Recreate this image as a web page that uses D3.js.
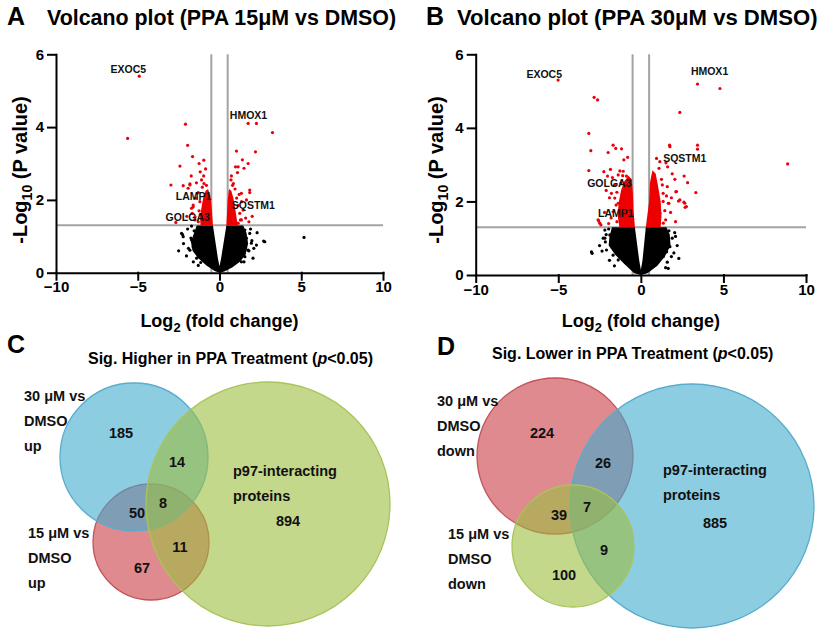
<!DOCTYPE html>
<html>
<head>
<meta charset="utf-8">
<script src="https://cdn.jsdelivr.net/npm/d3@7"></script>
<style>
  body { margin: 0; background: #fff; }
  svg { display: block; font-family: Arial, "Liberation Sans", sans-serif; font-weight: bold; }
</style>
</head>
<body>
<svg id="fig" width="819" height="635"></svg>
<script>
// ---------- data ----------
var xTicks = [-10, -5, 0, 5, 10];
var yTicks = [0, 2, 4, 6];
var fcCut = 0.5;      // |log2 FC| cut-off
var pCut = 1.301;     // -log10(0.05)

// panel A : PPA 15uM vs DMSO  ([log2FC, -log10 p])
var sigA = [
  [-4.91, 5.40], [-5.62, 3.69], [-2.08, 4.08], [-1.95, 3.50], [-1.65, 3.19], [-1.25, 3.00],
  [-0.96, 3.09], [-2.42, 2.93], [-2.97, 2.41], [-2.22, 2.39], [-1.81, 2.44], [-1.73, 2.66],
  [-1.18, 2.77], [-0.97, 2.66], [-1.41, 2.47], [-1.92, 2.32], [-1.61, 1.81], [-1.67, 1.63],
  [-2.67, 1.38], [-0.85, 2.85], [-1.10, 2.55], [-1.30, 2.20], [-0.80, 2.40], [-2.00, 1.55],
  [-1.50, 1.45], [-1.45, 2.05], [-1.05, 2.35], [-1.81, 2.41], [-1.61, 1.86], [-1.71, 1.77],
  [-1.50, 1.54], [-1.30, 1.40], [-1.25, 1.70], [-1.20, 1.95], [-0.95, 2.45],
  [1.75, 4.10], [2.26, 4.10], [3.24, 3.85], [2.20, 3.32], [1.04, 3.34], [1.40, 3.10],
  [1.75, 3.00], [0.98, 2.91], [1.14, 2.91], [1.50, 2.87], [1.10, 2.75], [0.73, 2.66],
  [1.85, 2.20], [1.65, 2.00], [1.44, 1.72], [1.28, 1.45], [0.85, 2.45], [0.95, 2.30],
  [1.20, 2.15], [2.00, 1.55], [1.60, 1.50], [0.70, 2.55], [1.35, 1.95], [1.80, 1.40],
  [1.24, 1.63], [1.34, 1.45], [1.14, 1.36], [1.85, 2.27], [1.34, 2.18], [1.15, 1.85],
  [0.80, 2.40], [1.05, 2.05]
];
var nsA = [
  [5.17, 0.97], [2.70, 0.87], [2.10, 0.67], [1.98, 0.88], [2.30, 1.10], [1.90, 1.20],
  [-2.26, 1.05], [-1.71, 1.28], [-2.02, 0.46], [-1.90, 0.67], [-2.50, 0.60], [-1.60, 0.30],
  [1.50, 0.30], [-1.75, 0.95], [2.05, 0.40], [1.80, 0.60], [-2.20, 0.80], [-1.30, 0.20],
  [-2.32, 1.08], [-2.22, 0.99], [-1.71, 0.90], [-1.61, 0.71], [-1.81, 0.62], [-1.40, 0.40],
  [1.55, 1.17], [1.85, 1.08], [1.95, 0.81], [1.75, 0.62], [1.55, 0.44], [1.34, 0.30],
  [2.77, 0.85], [2.26, 0.76], [-1.95, 1.20], [-1.55, 1.15], [1.65, 0.95], [-1.15, 0.28]
];
var coreBlackA = [
  [0, 0], [-0.3, 0.05], [-0.8, 0.2], [-1.3, 0.4], [-1.65, 0.6], [-1.75, 0.85], [-1.55, 1.1],
  [-1.4, 1.3], [-0.4, 1.3], [-0.1, 0.4], [0, 0.18], [0.1, 0.4], [0.42, 1.3], [1.45, 1.3],
  [1.65, 1.1], [1.75, 0.8], [1.6, 0.5], [1.25, 0.3], [0.8, 0.15], [0.3, 0.03]
];
var coreRedA = [
  [[-0.4, 1.3], [-1.15, 1.3], [-1.2, 1.5], [-1.1, 1.8], [-1.0, 2.05], [-0.85, 2.25],
   [-0.7, 2.3], [-0.55, 2.1], [-0.48, 1.8]],
  [[0.42, 1.3], [1.1, 1.3], [1.05, 1.5], [0.95, 1.8], [0.85, 2.05], [0.72, 2.25],
   [0.58, 2.3], [0.5, 2.0]]
];
var genesA = [["EXOC5", -6.66, 5.49], ["HMOX1", 0.63, 4.22], ["LAMP1", -2.67, 2.0],
              ["GOLGA3", -3.30, 1.42], ["SQSTM1", 0.75, 1.75]];

// panel B : PPA 30uM vs DMSO
var sigB = [
  [-5.01, 5.30], [-2.83, 4.83], [-2.62, 4.76], [-3.15, 3.85], [-3.03, 3.38], [-1.68, 3.53],
  [-1.52, 3.44], [-1.17, 3.43], [-1.98, 3.33], [-1.03, 3.13], [-3.15, 2.84], [-2.24, 2.81],
  [-1.84, 2.87], [-1.27, 2.83], [-1.07, 2.82], [-2.02, 2.69], [-1.72, 2.65], [-1.37, 2.72],
  [-0.87, 2.69], [-2.55, 1.47], [-2.42, 1.36], [-2.10, 2.30], [-1.90, 2.10], [-1.60, 2.45],
  [-1.50, 1.90], [-2.20, 1.70], [-1.80, 1.55], [-0.80, 3.20], [-1.20, 2.50], [-1.95, 1.40],
  [-2.59, 1.50], [-2.49, 1.41], [-1.78, 2.22], [-1.58, 2.09], [-1.37, 1.95], [-1.68, 1.72],
  [-1.27, 1.59], [-1.45, 2.25], [-1.45, 1.45], [-1.10, 2.70],
  [3.43, 5.19], [4.79, 5.07], [2.36, 4.42], [1.74, 3.53], [1.76, 3.49], [3.43, 3.53],
  [3.43, 3.42], [8.89, 3.02], [0.95, 3.17], [1.52, 3.05], [1.62, 2.94], [1.15, 3.08],
  [2.62, 2.69], [2.06, 2.60], [2.83, 2.51], [3.33, 2.24], [2.12, 2.26], [2.28, 2.01],
  [2.61, 1.98], [2.68, 1.84], [1.35, 2.22], [1.35, 2.00], [1.90, 2.75], [1.60, 2.40],
  [1.80, 1.70], [1.50, 1.50], [2.10, 1.45], [1.25, 2.60], [1.85, 2.10], [1.70, 1.95],
  [1.66, 1.95], [2.16, 2.27], [2.66, 1.95], [2.76, 1.86], [1.15, 1.68], [1.05, 1.50],
  [1.36, 1.41], [2.36, 2.04], [1.45, 1.75], [1.30, 2.45], [1.10, 2.90], [1.55, 2.15]
];
var nsB = [
  [-2.95, 0.59], [-2.28, 1.00], [-2.18, 1.22], [1.50, 0.20], [2.00, 0.60], [1.90, 1.00],
  [2.20, 0.80], [1.70, 1.20], [-2.50, 0.80], [-1.90, 0.40], [2.30, 0.45], [-2.10, 1.10],
  [2.05, 1.15], [-2.35, 0.65], [1.60, 0.35], [-2.99, 0.63], [-2.18, 1.00], [-1.88, 1.09],
  [-2.08, 0.68], [-1.68, 0.54], [-1.37, 0.41], [1.15, 0.77], [1.56, 0.63], [1.76, 0.77],
  [1.36, 0.50], [1.45, 1.13], [1.66, 0.18], [-2.15, 0.90], [-1.95, 1.25], [1.85, 0.50],
  [2.10, 1.05], [-1.60, 0.25]
];
var coreBlackB = [
  [0, 0], [-0.4, 0.05], [-1.0, 0.3], [-1.55, 0.55], [-1.95, 0.8], [-1.9, 1.05], [-1.75, 1.3],
  [-0.36, 1.3], [-0.1, 0.4], [0, 0.14], [0.1, 0.4], [0.3, 1.3], [1.55, 1.3], [1.75, 1.1],
  [1.8, 0.8], [1.45, 0.5], [1.0, 0.25], [0.4, 0.05]
];
var coreRedB = [
  [[-0.36, 1.3], [-1.3, 1.3], [-1.4, 1.6], [-1.35, 1.95], [-1.2, 2.3], [-1.0, 2.55],
   [-0.75, 2.7], [-0.55, 2.6], [-0.48, 2.2], [-0.45, 1.8]],
  [[0.3, 1.3], [1.2, 1.3], [1.25, 1.6], [1.2, 2.0], [1.05, 2.4], [0.9, 2.75],
   [0.7, 2.85], [0.55, 2.5], [0.5, 2.0]]
];
var genesB = [["EXOC5", -6.93, 5.36], ["HMOX1", 3.03, 5.44], ["SQSTM1", 1.35, 3.08],
              ["GOLGA3", -3.25, 2.38], ["LAMP1", -2.59, 1.59]];

// venn C : higher in PPA ; regions: A only, A∩P, all, A∩B, B∩P, B only, P only
var vennCSets = [["30 μM vs", "DMSO", "up"], ["15 μM vs", "DMSO", "up"], ["p97-interacting", "proteins"]];
var vennCCounts = [185, 14, 8, 50, 11, 67, 894];
// venn D : lower in PPA
var vennDSets = [["30 μM vs", "DMSO", "down"], ["15 μM vs", "DMSO", "down"], ["p97-interacting", "proteins"]];
var vennDCounts = [224, 26, 7, 39, 9, 100, 885];

// ---------- drawing ----------
var svg = d3.select('#fig');
var grey = '#a3a3a3';

function volcano(p) {
  var x = d3.scaleLinear().domain([-10, 10]).range(p.xr);
  var y = d3.scaleLinear().domain([0, 6]).range(p.yr);
  var g = svg.append('g');

  svg.append('text').attr('x', p.letterX).attr('y', 25).attr('font-size', 25).text(p.letter);
  svg.append('text').attr('x', p.titleX).attr('y', 25).attr('font-size', p.titleSize).text(p.title);

  // cut-off guides
  [-fcCut, fcCut].forEach(function(v) {
    g.append('line').attr('x1', x(v)).attr('x2', x(v)).attr('y1', y(0)).attr('y2', y(6))
      .attr('stroke', grey).attr('stroke-width', 2);
  });
  g.append('line').attr('x1', x(-10)).attr('x2', x(10)).attr('y1', y(pCut)).attr('y2', y(pCut))
    .attr('stroke', grey).attr('stroke-width', 2);

  var line = d3.line().x(function(d) { return x(d[0]); }).y(function(d) { return y(d[1]); })
    .curve(d3.curveLinearClosed);
  g.append('path').attr('d', line(p.coreBlack)).attr('fill', '#000');
  p.coreRed.forEach(function(c) {
    g.append('path').attr('d', line(c)).attr('fill', '#ee0000');
  });
  g.selectAll('circle.ns').data(p.ns).enter().append('circle').attr('class', 'ns')
    .attr('cx', function(d) { return x(d[0]); }).attr('cy', function(d) { return y(d[1]); })
    .attr('r', 1.6).attr('fill', '#000');
  g.selectAll('circle.sig').data(p.sig).enter().append('circle').attr('class', 'sig')
    .attr('cx', function(d) { return x(d[0]); }).attr('cy', function(d) { return y(d[1]); })
    .attr('r', 1.6).attr('fill', '#e8000b');

  g.selectAll('text.gene').data(p.genes).enter().append('text').attr('class', 'gene')
    .attr('x', function(d) { return x(d[1]); }).attr('y', function(d) { return y(d[2]); })
    .attr('font-size', 10.5).attr('fill', '#111').text(function(d) { return d[0]; });

  var ax = g.append('g').attr('transform', 'translate(0,' + y(0) + ')')
    .call(d3.axisBottom(x).tickValues(xTicks).tickFormat(d3.format('d'))
      .tickSize(7).tickPadding(2).tickSizeOuter(0));
  var ay = g.append('g').attr('transform', 'translate(' + x(-10) + ',0)')
    .call(d3.axisLeft(y).tickValues(yTicks).tickFormat(d3.format('d'))
      .tickSize(8).tickPadding(4).tickSizeOuter(0));
  [ax, ay].forEach(function(a) {
    a.attr('font-size', 15).attr('font-family', null).attr('font-weight', 'bold');
    a.selectAll('path, line').attr('stroke', '#000').attr('stroke-width', 2)
      .attr('stroke-linecap', 'square');
    a.selectAll('text').attr('fill', '#000');
  });

  var xt = svg.append('text').attr('x', (p.xr[0] + p.xr[1]) / 2).attr('y', 327)
    .attr('text-anchor', 'middle').attr('font-size', 18);
  xt.append('tspan').text('Log');
  xt.append('tspan').attr('font-size', 13).attr('dy', 5).text('2');
  xt.append('tspan').attr('dy', -5).text(' (fold change)');

  var yt = svg.append('text').attr('transform', 'translate(' + p.yTitleX + ',170) rotate(-90)')
    .attr('text-anchor', 'middle').attr('font-size', 20);
  yt.append('tspan').text('-Log');
  yt.append('tspan').attr('font-size', 14).attr('dy', 5).text('10');
  yt.append('tspan').attr('dy', -5).text(' (P value)');
}

volcano({xr: [56, 383], yr: [272.7, 54.3], sig: sigA, ns: nsA, coreBlack: coreBlackA,
  coreRed: coreRedA, genes: genesA, letter: 'A', letterX: 7, titleX: 47, titleSize: 21.4,
  title: 'Volcano plot (PPA 15μM vs DMSO)', yTitleX: 27});
volcano({xr: [475.7, 806], yr: [275, 54.3], sig: sigB, ns: nsB, coreBlack: coreBlackB,
  coreRed: coreRedB, genes: genesB, letter: 'B', letterX: 426, titleX: 457, titleSize: 22.1,
  title: 'Volcano plot (PPA 30μM vs DMSO)', yTitleX: 443});

// venn layout (pixel geometry only)
var vennFill = {red: '#c83c44', blue: '#3facce', green: '#9dbe3f'};
var vennStroke = {red: '#c4525b', blue: '#5aaccc', green: '#a9c45a'};

function venn(p) {
  svg.append('text').attr('x', p.letterX).attr('y', p.letterY).attr('font-size', 25).text(p.letter);
  var t = svg.append('text').attr('x', p.titleX).attr('y', p.titleY).attr('font-size', 16);
  t.append('tspan').text(p.title + ' (');
  t.append('tspan').attr('font-style', 'italic').text('p');
  t.append('tspan').text('<0.05)');

  p.circles.forEach(function(c) {
    svg.append('circle').attr('cx', c.cx).attr('cy', c.cy).attr('r', c.r)
      .attr('fill', vennFill[c.color]).attr('fill-opacity', 0.6)
      .attr('stroke', vennStroke[c.color]).attr('stroke-width', 1.3);
  });
  p.setLabels.forEach(function(s, i) {
    var pos = p.labelPos[i];
    s.forEach(function(line, j) {
      svg.append('text').attr('x', pos[0]).attr('y', pos[1] + j * pos[2])
        .attr('font-size', 14.5).attr('fill', '#111').text(line);
    });
  });
  p.counts.forEach(function(n, i) {
    svg.append('text').attr('x', p.countPos[i][0]).attr('y', p.countPos[i][1])
      .attr('text-anchor', 'middle').attr('font-size', 14.5).attr('fill', '#111').text(n);
  });
}

venn({letter: 'C', letterX: 7, letterY: 353, titleX: 88, titleY: 364,
  title: 'Sig. Higher in PPA Treatment',
  circles: [{cx: 151, cy: 542, r: 58, color: 'red'},
            {cx: 134, cy: 457, r: 74, color: 'blue'},
            {cx: 268, cy: 504, r: 122, color: 'green'}],
  setLabels: vennCSets,
  labelPos: [[24, 401, 25], [28, 538, 25], [233, 476, 25]],
  counts: vennCCounts,
  countPos: [[121, 438], [177, 467], [163, 508], [137, 518], [180, 552], [142, 573], [288, 526]]});

venn({letter: 'D', letterX: 437, letterY: 355, titleX: 492, titleY: 359,
  title: 'Sig. Lower in PPA Treatment',
  circles: [{cx: 555, cy: 456, r: 78, color: 'red'},
            {cx: 692, cy: 506, r: 122, color: 'blue'},
            {cx: 573, cy: 546, r: 61, color: 'green'}],
  setLabels: vennDSets,
  labelPos: [[437, 406, 25], [448, 539, 25], [663, 475, 25]],
  counts: vennDCounts,
  countPos: [[542, 438], [603, 468], [587, 512], [559, 520], [604, 555], [564, 580], [715, 528]]});
</script>
</body>
</html>
